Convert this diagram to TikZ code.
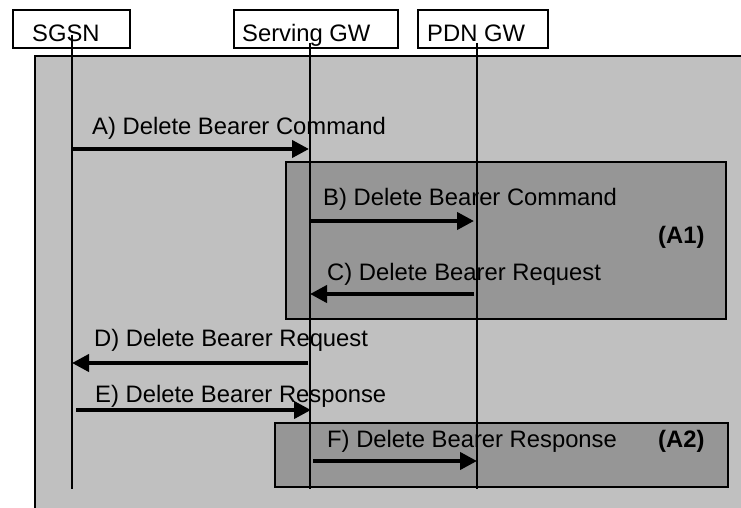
\documentclass[tikz,border=0pt]{standalone}
\usepackage{fontspec}
\setmainfont{Liberation Sans}
\usetikzlibrary{arrows.meta}
\definecolor{outergray}{RGB}{192,192,192}
\definecolor{innergray}{RGB}{150,150,150}

\begin{document}
\begin{tikzpicture}[x=1pt,y=-1pt,
    msg/.style={line width=4pt,-{Triangle[length=17pt,width=17pt]}},
    life/.style={line width=1.5pt},
    hdr/.style={draw,line width=2pt,fill=white,anchor=north west,minimum height=38pt,inner sep=0pt},
    area/.style={draw,line width=2pt,fill=innergray},
    lbl/.style={anchor=base west,inner sep=0pt,font=\fontsize{23.8}{28}\selectfont},
    tag/.style={lbl,font=\fontsize{23.8}{28}\selectfont\bfseries}]
        \useasboundingbox (0,0) rectangle (741,508);
        \clip (0,0) rectangle (741,508);
        % lifelines
        \coordinate (s0) at (72,35);
        \coordinate (s1) at (72,489);
        \coordinate (g0) at (310,43);
        \coordinate (g1) at (310,489);
        \coordinate (p0) at (477,43);
        \coordinate (p1) at (477,489);
        % message ends
        \coordinate (sA) at (72,149);
        \coordinate (gA) at (309,149);
        \coordinate (gB) at (310,221);
        \coordinate (pB) at (474,221);
        \coordinate (pC) at (474,294);
        \coordinate (gC) at (310,294);
        \coordinate (gD) at (308,363);
        \coordinate (sD) at (72,363);
        \coordinate (sE) at (76,410);
        \coordinate (gE) at (311,410);
        \coordinate (gF) at (313,461);
        \coordinate (pF) at (477,461);
        \draw[line width=2pt,fill=outergray] (35,56) rectangle (780,540);
        \draw[area] (286,162) rectangle (726,319);
        \draw[area] (275,423) rectangle (728,487);
        \node[hdr,minimum width=117pt] (sgsn) at (12,9) {};
        \node[hdr,minimum width=164pt] (sgw) at (233,9) {};
        \node[hdr,minimum width=130pt] (pgw) at (417,9) {};
        \node[lbl] (sgsnname) at (32,42) {SGSN};
        \node[lbl] (sgwname) at (242,42) {Serving GW};
        \node[lbl] (pgwname) at (427,42) {PDN GW};
        \node[lbl] (la) at (92,135) {A) Delete Bearer Command};
        \node[lbl] (lb) at (323,205) {B) Delete Bearer Command};
        \node[lbl] (lc) at (327,280) {C) Delete Bearer Request};
        \node[lbl] (ld) at (94,346) {D) Delete Bearer Request};
        \node[lbl] (le) at (95,402) {E) Delete Bearer Response};
        \node[lbl] (lf) at (327,447) {F) Delete Bearer Response};
        \node[tag] (a1) at (658,243) {(A1)};
        \node[tag] (a2) at (658,447) {(A2)};
        \draw[life] (s0) -- (s1);
        \draw[life] (g0) -- (g1);
        \draw[life] (p0) -- (p1);
        \draw[msg] (sA) -- (gA);
        \draw[msg] (gB) -- (pB);
        \draw[msg] (pC) -- (gC);
        \draw[msg] (gD) -- (sD);
        \draw[msg] (sE) -- (gE);
        \draw[msg] (gF) -- (pF);
\end{tikzpicture}
\end{document}
